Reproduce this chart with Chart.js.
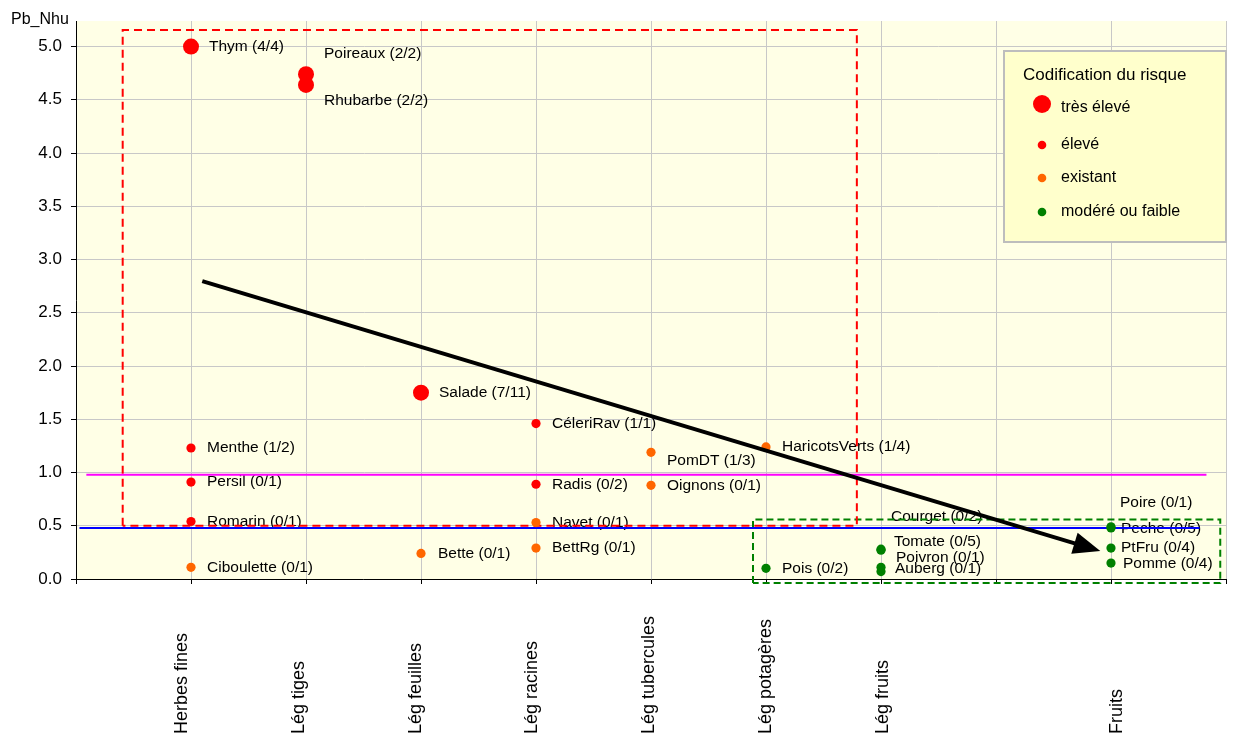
<!DOCTYPE html>
<html lang="fr">
<head>
<meta charset="utf-8">
<title>Pb_Nhu par catégorie de légumes</title>
<script src="https://cdn.jsdelivr.net/npm/chart.js@4.4.1/dist/chart.umd.min.js"></script>
<style>
  html, body { margin: 0; padding: 0; background: #fff; }
  #wrap { width: 1234px; height: 736px; }
</style>
</head>
<body>
<div id="wrap"><canvas id="riskChart" width="1234" height="736"></canvas></div>
<script>
// Categories along the x axis (slot 8 is left empty)
const categories = ['Herbes fines', 'Lég tiges', 'Lég feuilles', 'Lég racines',
  'Lég tubercules', 'Lég potagères', 'Lég fruits', 'Fruits'];
const categoryPos = [1, 2, 3, 4, 5, 6, 7, 9];

const riskLabels = ['très élevé', 'élevé', 'existant', 'modéré ou faible'];

// one entry per plant
const plantNames = [
  'Thym (4/4)', 'Menthe (1/2)', 'Persil (0/1)', 'Romarin (0/1)', 'Ciboulette (0/1)',
  'Poireaux (2/2)', 'Rhubarbe (2/2)',
  'Salade (7/11)', 'Bette (0/1)',
  'CéleriRav (1/1)', 'Radis (0/2)', 'Navet (0/1)', 'BettRg (0/1)',
  'PomDT (1/3)', 'Oignons (0/1)',
  'HaricotsVerts (1/4)', 'Pois (0/2)',
  'Courget (0/2)', 'Tomate (0/5)', 'Poivron (0/1)', 'Auberg (0/1)',
  'Poire (0/1)', 'Peche (0/5)', 'PtFru (0/4)', 'Pomme (0/4)'
];
const plantCat = [1, 1, 1, 1, 1, 2, 2, 3, 3, 4, 4, 4, 4, 5, 5, 6, 6, 7, 7, 7, 7, 9, 9, 9, 9];
const pbNhu = [5.0, 1.23, 0.91, 0.54, 0.11, 4.74, 4.64, 1.75, 0.24, 1.46, 0.89, 0.53, 0.29,
  1.19, 0.88, 1.24, 0.10, 0.28, 0.27, 0.11, 0.07, 0.49, 0.48, 0.29, 0.15];
const plantRisk = [0, 1, 1, 1, 2, 0, 0, 0, 2, 1, 1, 2, 2, 2, 2, 2, 3, 3, 3, 3, 3, 3, 3, 3, 3];

// reference lines, zones and trend arrow (data units)
const seuilHautX = [0.09, 9.83];
const seuilHautY = [0.98, 0.98];
const seuilBasX = [0.03, 9.77];
const seuilBasY = [0.48, 0.48];
const zoneRisqueX = [0.406, 6.79];
const zoneRisqueY = [0.50, 5.155];
const zoneFaibleX = [5.887, 9.95];
const zoneFaibleY = [-0.038, 0.559];
const trendX = [1.098, 8.907];
const trendY = [2.798, 0.263];

const riskColors = ['#ff0000', '#ff0000', '#ff6600', '#008000'];
const riskRadius = [8, 4.6, 4.6, 4.6];
const FONT = "'Liberation Sans', Arial, sans-serif";

// label placement tweaks in px (dx, dy) from the point centre
const labelNudge = {
  'Thym (4/4)': [18, 0], 'Poireaux (2/2)': [18, -21], 'Rhubarbe (2/2)': [18, 16],
  'Salade (7/11)': [18, 0], 'Bette (0/1)': [17, 0], 'PomDT (1/3)': [16, 8],
  'Courget (0/2)': [10, -32], 'Tomate (0/5)': [13, -9], 'Poivron (0/1)': [15, -10],
  'Auberg (0/1)': [14, -3], 'Poire (0/1)': [9, -24], 'Peche (0/5)': [10, 1],
  'PtFru (0/4)': [10, 0], 'Pomme (0/4)': [12, 1]
};

function rectPoints(xs, ys) {
  return [
    { x: xs[0], y: ys[0] }, { x: xs[0], y: ys[1] }, { x: xs[1], y: ys[1] },
    { x: xs[1], y: ys[0] }, { x: xs[0], y: ys[0] }
  ];
}
function linePoints(xs, ys) {
  return xs.map((x, i) => ({ x: x, y: ys[i] }));
}

// point datasets, one per risk level
const pointSets = riskLabels.map((lbl, r) => ({
  label: lbl,
  data: plantNames.map((n, i) => ({ x: plantCat[i], y: pbNhu[i], name: n }))
    .filter((p, i) => plantRisk[i] === r),
  backgroundColor: riskColors[r],
  borderWidth: 0,
  pointRadius: riskRadius[r],
  pointHoverRadius: riskRadius[r]
}));

const lineSets = [
  { data: linePoints(seuilHautX, seuilHautY), borderColor: '#ff00ff', borderWidth: 2 },
  { data: linePoints(seuilBasX, seuilBasY), borderColor: '#0000ff', borderWidth: 2 },
  { data: rectPoints(zoneRisqueX, zoneRisqueY), borderColor: '#ff0000', borderWidth: 2, borderDash: [8, 5] },
  { data: rectPoints(zoneFaibleX, zoneFaibleY), borderColor: '#008000', borderWidth: 2, borderDash: [7, 4] }
].map(d => Object.assign(d, { showLine: true, pointRadius: 0, fill: false, tension: 0, clip: false }));

const chartBg = {
  id: 'chartBg',
  beforeDraw(chart) {
    const { ctx, chartArea: a } = chart;
    ctx.save();
    ctx.fillStyle = '#ffffe6';
    ctx.fillRect(a.left, a.top, a.right - a.left, a.bottom - a.top);
    ctx.restore();
  }
};

const pointLabels = {
  id: 'pointLabels',
  beforeDatasetsDraw(chart) {
    const { ctx } = chart;
    const x = chart.scales.x, y = chart.scales.y;
    ctx.save();
    ctx.font = '15.5px ' + FONT;
    ctx.fillStyle = '#000';
    ctx.textAlign = 'left';
    ctx.textBaseline = 'middle';
    plantNames.forEach((n, i) => {
      const nudge = labelNudge[n] || [16, 0];
      ctx.fillText(n, x.getPixelForValue(plantCat[i]) + nudge[0], y.getPixelForValue(pbNhu[i]) + nudge[1]);
    });
    ctx.restore();
  },
  afterDatasetsDraw(chart) {
    // trend arrow
    const { ctx } = chart;
    const x = chart.scales.x, y = chart.scales.y;
    const x0 = x.getPixelForValue(trendX[0]), y0 = y.getPixelForValue(trendY[0]);
    const x1 = x.getPixelForValue(trendX[1]), y1 = y.getPixelForValue(trendY[1]);
    const ang = Math.atan2(y1 - y0, x1 - x0);
    const headLen = 27, headHalf = 11;
    const bx = x1 - headLen * Math.cos(ang), by = y1 - headLen * Math.sin(ang);
    ctx.save();
    ctx.strokeStyle = '#000';
    ctx.fillStyle = '#000';
    ctx.lineWidth = 4;
    ctx.beginPath();
    ctx.moveTo(x0, y0);
    ctx.lineTo(bx + 2 * Math.cos(ang), by + 2 * Math.sin(ang));
    ctx.stroke();
    ctx.beginPath();
    ctx.moveTo(x1, y1);
    ctx.lineTo(bx + headHalf * Math.sin(ang), by - headHalf * Math.cos(ang));
    ctx.lineTo(bx - headHalf * Math.sin(ang), by + headHalf * Math.cos(ang));
    ctx.closePath();
    ctx.fill();
    ctx.restore();
  },
  afterDraw(chart) {
    const { ctx } = chart;
    const xc = chart.scales.xCat;
    ctx.save();
    // y axis title
    ctx.fillStyle = '#000';
    ctx.font = '16px ' + FONT;
    ctx.textAlign = 'left';
    ctx.textBaseline = 'alphabetic';
    ctx.fillText('Pb_Nhu', 11, 24);

    // rotated category labels
    ctx.font = '18px ' + FONT;
    ctx.textBaseline = 'middle';
    categories.forEach((c, i) => {
      ctx.save();
      ctx.translate(xc.getPixelForValue(categoryPos[i]), 734);
      ctx.rotate(-Math.PI / 2);
      ctx.fillText(c, 0, 0);
      ctx.restore();
    });

    // legend box
    const L = { x: 1003, y: 50, w: 224, h: 193 };
    ctx.fillStyle = '#ffffcc';
    ctx.fillRect(L.x, L.y, L.w, L.h);
    ctx.strokeStyle = '#bdbdbd';
    ctx.lineWidth = 2;
    ctx.strokeRect(L.x + 1, L.y + 1, L.w - 2, L.h - 2);
    ctx.fillStyle = '#000';
    ctx.font = '17px ' + FONT;
    ctx.textBaseline = 'middle';
    ctx.fillText('Codification du risque', 1023, 75);
    const rowY = [104, 145, 178, 212];
    const textY = [108, 145, 178, 212];
    ctx.font = '16px ' + FONT;
    riskLabels.forEach((lbl, r) => {
      ctx.fillStyle = riskColors[r];
      ctx.beginPath();
      ctx.arc(1042, rowY[r], r === 0 ? 9 : 4.3, 0, Math.PI * 2);
      ctx.fill();
      ctx.fillStyle = '#000';
      ctx.fillText(lbl, 1061, textY[r]);
    });
    ctx.restore();
  }
};

new Chart(document.getElementById('riskChart'), {
  type: 'scatter',
  data: { datasets: pointSets.concat(lineSets) },
  options: {
    responsive: false,
    animation: false,
    events: [],
    layout: { padding: { top: 21, right: 6, left: 0, bottom: 0 } },
    plugins: { legend: { display: false }, tooltip: { enabled: false } },
    scales: {
      x: {
        type: 'linear', min: 0, max: 10,
        afterFit: s => { s.height = 157; },
        ticks: { display: false, stepSize: 1 },
        grid: { color: '#c8c8c8', tickColor: '#000', tickLength: 5 },
        border: { color: '#000', width: 1 }
      },
      xCat: {
        type: 'linear', axis: 'x', display: false, min: 0.093, max: 9.935
      },
      y: {
        min: 0, max: 5.24,
        afterFit: s => { s.width = 76; },
        ticks: {
          stepSize: 0.5, includeBounds: false, color: '#000', padding: 9,
          font: { family: FONT, size: 17 },
          callback: v => v.toFixed(1)
        },
        grid: { color: '#c8c8c8', tickColor: '#000', tickLength: 5 },
        border: { color: '#000', width: 1 }
      }
    }
  },
  plugins: [chartBg, pointLabels]
});
</script>
</body>
</html>
